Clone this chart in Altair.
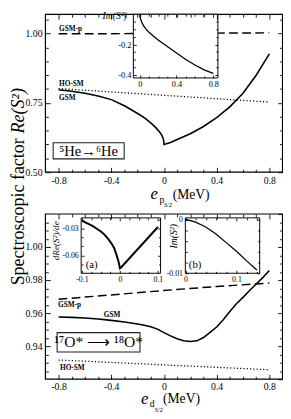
import altair as alt
import pandas as pd

SERIF = "Liberation Serif"
W, H = 283, 411

# ---------------- data ----------------
# Top panel: 5He -> 6He, Re(S^2) vs e_p3/2 (MeV)
top_x = [-0.8, -0.7, -0.6, -0.5, -0.4, -0.3, -0.2, -0.15, -0.1, -0.06, -0.03, -0.015,
         -0.005, -0.001, 0.0, 0.05, 0.1, 0.2, 0.3, 0.4, 0.5, 0.6, 0.7, 0.8]
top_gsm = [0.798, 0.792, 0.785, 0.775, 0.762, 0.740, 0.712, 0.697, 0.678, 0.660, 0.643, 0.632,
           0.620, 0.612, 0.600, 0.607, 0.618, 0.639, 0.665, 0.697, 0.736, 0.785, 0.850, 0.927]
top_x_gsmp = [-0.8, -0.4, 0.0, 0.4, 0.8]
top_gsmp = [1.000, 1.000, 1.001, 1.002, 1.003]
top_x_hosm = [-0.8, 0.8]
top_hosm = [0.802, 0.753]
# Top inset: Im(S^2)
ins1_x = [0.0, 0.003, 0.01, 0.02, 0.04, 0.07, 0.1, 0.15, 0.2, 0.3, 0.4, 0.5, 0.6, 0.7, 0.8]
ins1_im = [0.0, -0.02, -0.035, -0.05, -0.075, -0.10, -0.118, -0.145, -0.17, -0.212, -0.255,
           -0.298, -0.335, -0.367, -0.39]

# Bottom panel: 17O* -> 18O*, Re(S^2) vs e_d3/2 (MeV)
bot_x = [-0.8, -0.7, -0.6, -0.5, -0.4, -0.3, -0.2, -0.15, -0.1, -0.05, 0.0, 0.05, 0.1, 0.15,
         0.2, 0.25, 0.3, 0.35, 0.4, 0.45, 0.5, 0.55, 0.6, 0.65, 0.7, 0.75, 0.8]
bot_gsm = [0.9576, 0.9574, 0.9570, 0.9564, 0.9556, 0.9546, 0.9534, 0.9527, 0.9517, 0.9503,
           0.9482, 0.9462, 0.9445, 0.9432, 0.9428, 0.9432, 0.9452, 0.9483, 0.9516, 0.9560,
           0.9610, 0.9657, 0.9695, 0.9737, 0.9776, 0.9815, 0.9858]
bot_x_gsmp = [-0.8, -0.4, 0.0, 0.4, 0.8]
bot_gsmp = [0.9684, 0.9710, 0.9737, 0.9761, 0.9782]
bot_x_hosm = [-0.8, 0.8]
bot_hosm = [0.9316, 0.9257]
# Inset (a): dRe(S^2)/de
insa_x = [-0.1, -0.09, -0.08, -0.07, -0.06, -0.05, -0.04, -0.03, -0.02, -0.015, -0.01,
          -0.005, -0.002, 0.0, 0.003, 0.1]
insa_y = [-0.0210, -0.0232, -0.0252, -0.0276, -0.0304, -0.0332, -0.0370, -0.0420, -0.0480,
          -0.0520, -0.0580, -0.0650, -0.0700, -0.0745, -0.0735, -0.0282]
# Inset (b): Im(S^2)
insb_x = [0.0, 0.01, 0.02, 0.04, 0.06, 0.08, 0.1, 0.12, 0.14]
insb_y = [0.0, -0.0002, -0.0005, -0.0014, -0.0027, -0.0043, -0.0059, -0.0077, -0.0094]

# tick values
main_x_major = [-0.8, -0.4, 0.0, 0.4, 0.8]
main_x_minor = [-0.7, -0.6, -0.5, -0.3, -0.2, -0.1, 0.1, 0.2, 0.3, 0.5, 0.6, 0.7]
top_y_major = [0.5, 0.75, 1.0]
top_y_minor = [0.55, 0.6, 0.65, 0.7, 0.8, 0.85, 0.9, 0.95, 1.05]
bot_y_major = [0.94, 0.96, 0.98, 1.0]
bot_y_major_all = [0.92, 0.94, 0.96, 0.98, 1.0, 1.02]
bot_y_minor = [0.925, 0.93, 0.935, 0.945, 0.95, 0.955, 0.965, 0.97, 0.975, 0.985, 0.99,
               0.995, 1.005, 1.01, 1.015]
ins1_x_major = [0.0, 0.4, 0.8]
ins1_x_minor = [0.1, 0.2, 0.3, 0.5, 0.6, 0.7]
ins1_y_major = [-0.4, -0.2]
ins1_y_minor = [-0.35, -0.3, -0.25, -0.15, -0.1, -0.05]
insa_x_major = [-0.1, 0.0, 0.1]
insa_x_minor = [-0.075, -0.05, -0.025, 0.025, 0.05, 0.075]
insa_y_major = [-0.06, -0.03]
insa_y_minor = [-0.07, -0.05, -0.04, -0.02]
insb_x_major = [0.0, 0.1]
insb_x_minor = [0.02, 0.04, 0.06, 0.08, 0.12, 0.14]
insb_y_major = [-0.01, 0.0]
insb_y_minor = [-0.008, -0.006, -0.004, -0.002]

E1 = "datum.value == 0 ? '0' : replace(format(datum.value, '.1f'), '\u2212', '-')"
E2 = "replace(format(datum.value, '.2f'), '\u2212', '-')"
E3 = "datum.value == 0 ? '0' : replace(format(datum.value, '.2f'), '\u2212', '-')"


# ---------------- helpers ----------------
def S(domain, rng):
    return alt.Scale(domain=domain, range=rng, nice=False, zero=False)


def line(xs, ys, X, Y, **kw):
    df = pd.DataFrame({"x": xs, "y": ys})
    return alt.Chart(df).mark_line(**kw).encode(
        x=alt.X("x:Q", scale=X, axis=None), y=alt.Y("y:Q", scale=Y, axis=None))


def text(t, x, y, X, Y, **kw):
    df = pd.DataFrame({"x": [x], "y": [y], "t": [t]})
    kw.setdefault("font", SERIF)
    kw.setdefault("color", "black")
    return alt.Chart(df).mark_text(**kw).encode(
        x=alt.X("x:Q", scale=X, axis=None), y=alt.Y("y:Q", scale=Y, axis=None), text="t:N")


def rect(x0, x1, y0, y1, X, Y, **kw):
    df = pd.DataFrame({"x": [x0], "x2": [x1], "y": [y0], "y2": [y1]})
    return alt.Chart(df).mark_rect(**kw).encode(
        x=alt.X("x:Q", scale=X, axis=None), x2="x2:Q",
        y=alt.Y("y:Q", scale=Y, axis=None), y2="y2:Q")


def A(orient, values, offset, tick, labels=False, pad=3, expr=None, size=10):
    kw = dict(orient=orient, values=values, offset=offset, tickSize=tick, tickColor="black",
              tickWidth=0.9, domain=False, grid=False, title=None, labels=labels, zindex=1)
    if labels:
        kw.update(labelPadding=pad, labelFont=SERIF, labelFontSize=size, labelColor="black",
                  labelOverlap=False, labelFlush=False)
        if expr:
            kw["labelExpr"] = expr
    return alt.Axis(**kw)


def axes_layer(X, Y, xv, yv, xaxis, yaxis):
    df = pd.DataFrame({"x": [xv], "y": [yv]})
    return alt.Chart(df).mark_point(opacity=0, size=1).encode(
        x=alt.X("x:Q", scale=X, axis=xaxis), y=alt.Y("y:Q", scale=Y, axis=yaxis))


def frame_axes(X, Y, xv, yv, box, xmaj, xmin, ymaj, ymin, big, small, lab_x, lab_y):
    # box = (left, right, top, bottom) in view pixels
    l, r, t, b = box
    out = [
        axes_layer(X, Y, xv, yv,
                   A("bottom", xmaj, b - big - H, big, *lab_x),
                   A("left", ymaj[0], -(l + big), big, *lab_y)),
        axes_layer(X, Y, xv, yv, A("top", xmaj, -(t + big), big),
                   A("right", ymaj[1], (r - big) - W, big)),
        axes_layer(X, Y, xv, yv, A("bottom", xmin, b - small - H, small),
                   A("left", ymin, -(l + small), small)),
        axes_layer(X, Y, xv, yv, A("top", xmin, -(t + small), small),
                   A("right", ymin, (r - small) - W, small)),
    ]
    return out


# ---------------- scales (view pixel ranges) ----------------
TX = S([-0.9, 0.9], [38.5, 282.5])
TY = S([0.5, 1.07], [163, 0.5])
T1X = S([-0.07, 0.85], [129, 216])
T1Y = S([-0.42, 0.0], [66, 0.5])
BX = S([-0.9, 0.9], [38.5, 282.5])
BY = S([0.92, 1.02], [376, 206])
AX = S([-0.102, 0.107], [75.3, 157])
AY = S([-0.08, -0.018], [267, 210])
BBX = S([0.0, 0.1455], [182.5, 259])
BBY = S([-0.01, 0.0003], [267, 210])

layers = []
# ---- top main panel ----
layers += [
    line(top_x_gsmp, top_gsmp, TX, TY, color="black", strokeWidth=1.5, strokeDash=[9, 4.5]),
    line(top_x_hosm, top_hosm, TX, TY, color="black", strokeWidth=1.3, strokeDash=[1.2, 2.2]),
    line(top_x, top_gsm, TX, TY, color="black", strokeWidth=1.6),
    text("GSM-p", -0.796, 1.016, TX, TY, align="left", baseline="middle", fontSize=7.5, fontWeight="bold"),
    text("HO-SM", -0.796, 0.819, TX, TY, align="left", baseline="middle", fontSize=7.5, fontWeight="bold"),
    text("GSM", -0.796, 0.769, TX, TY, align="left", baseline="middle", fontSize=7.5, fontWeight="bold"),
    rect(-0.841, -0.302, 0.548, 0.606, TX, TY, fill="white", stroke="#222", strokeWidth=1.1),
    text("\u2075He\u2192\u2076He", -0.572, 0.577, TX, TY, align="center", baseline="middle", fontSize=15),
    rect(-0.9, 0.9, 0.5, 1.07, TX, TY, fill="white", fillOpacity=0, stroke="black", strokeWidth=1.2),
    # x title e_{p3/2} (MeV)
    text("e", -0.074, 0.4018, TX, TY, align="center", baseline="alphabetic", fontSize=17, fontStyle="italic"),
    text("p", -0.033, 0.3895, TX, TY, align="left", baseline="alphabetic", fontSize=10),
    text("3/2", -0.0037, 0.3737, TX, TY, align="left", baseline="alphabetic", fontSize=7),
    text("(MeV)", 0.066, 0.405, TX, TY, align="left", baseline="alphabetic", fontSize=14),
    # shared y title
    text("Spectroscopic factor", -1.0619, 0.6228, TX, TY, align="right", baseline="alphabetic", angle=270, fontSize=18.5),
    text("Re(S\u00b2)", -1.0619, 0.640, TX, TY, align="left", baseline="alphabetic", angle=270, fontSize=18.5, fontStyle="italic"),
]
# ---- top inset ----
layers += [
    rect(-0.07, 0.85, -0.42, 0.0, T1X, T1Y, fill="white", stroke="black", strokeWidth=1),
    line(ins1_x, ins1_im, T1X, T1Y, color="black", strokeWidth=1.3),
    text("Im(S\u00b2)", -0.28, 1.063, TX, TY, align="right", baseline="middle", fontSize=10, fontStyle="italic"),
]
# ---- bottom main panel ----
layers += [
    line(bot_x_gsmp, bot_gsmp, BX, BY, color="black", strokeWidth=1.5, strokeDash=[9, 4.5]),
    line(bot_x_hosm, bot_hosm, BX, BY, color="black", strokeWidth=1.3, strokeDash=[1.2, 2.2]),
    line(bot_x, bot_gsm, BX, BY, color="black", strokeWidth=1.6),
    text("GSM-p", -0.804, 0.9647, BX, BY, align="left", baseline="middle", fontSize=7.5, fontWeight="bold"),
    text("GSM", -0.457, 0.9588, BX, BY, align="left", baseline="middle", fontSize=7.5, fontWeight="bold"),
    text("HO-SM", -0.789, 0.9265, BX, BY, align="left", baseline="middle", fontSize=7.5, fontWeight="bold"),
    rect(-0.811, -0.182, 0.9365, 0.9482, BX, BY, fill="white", stroke="#222", strokeWidth=1.1),
    text("\u00b9\u2077O* \u27f6 \u00b9\u2078O*", -0.496, 0.9424, BX, BY, align="center", baseline="middle", fontSize=16),
    rect(-0.9, 0.9, 0.92, 1.02, BX, BY, fill="white", fillOpacity=0, stroke="black", strokeWidth=1.2),
    text("e", -0.1475, 0.905, BX, BY, align="center", baseline="alphabetic", fontSize=17, fontStyle="italic"),
    text("d", -0.107, 0.9029, BX, BY, align="left", baseline="alphabetic", fontSize=10),
    text("3/2", -0.0737, 0.9, BX, BY, align="left", baseline="alphabetic", fontSize=7),
    text("(MeV)", -0.0074, 0.9053, BX, BY, align="left", baseline="alphabetic", fontSize=14),
]
# ---- inset (a) ----
layers += [
    rect(-0.102, 0.107, -0.08, -0.018, AX, AY, fill="white", stroke="black", strokeWidth=1),
    line(insa_x, insa_y, AX, AY, color="black", strokeWidth=2),
    text("(a)", -0.0746, -0.0708, AX, AY, align="center", baseline="middle", fontSize=11),
    text("dRe(S\u00b2)/de", -0.1616, -0.0436, AX, AY, align="center", baseline="alphabetic", angle=270, fontSize=9.5, fontStyle="italic"),
]
# ---- inset (b) ----
layers += [
    rect(0.0, 0.1455, -0.01, 0.0003, BBX, BBY, fill="white", stroke="black", strokeWidth=1),
    line(insb_x, insb_y, BBX, BBY, color="black", strokeWidth=1.3),
    text("(b)", 0.019, -0.0085, BBX, BBY, align="center", baseline="middle", fontSize=11),
    text("Im(S\u00b2)", -0.0162, -0.00313, BBX, BBY, align="center", baseline="alphabetic", angle=270, fontSize=10, fontStyle="italic"),
]

# ---- axes (inward ticks on all four sides) ----
layers += frame_axes(TX, TY, 0.0, 0.75, (38.5, 282.5, 0.5, 163),
                     main_x_major, main_x_minor, (top_y_major, top_y_major), top_y_minor,
                     5, 3, (True, 4, E1, 10), (True, 3.5, E2, 10))
layers += frame_axes(BX, BY, 0.0, 0.96, (38.5, 282.5, 206, 376),
                     main_x_major, main_x_minor, (bot_y_major, bot_y_major_all), bot_y_minor,
                     5, 3, (True, 3, E1, 10), (True, 3.5, E2, 10))
layers += frame_axes(T1X, T1Y, 0.4, -0.2, (129, 216, 0.5, 66),
                     ins1_x_major, ins1_x_minor, (ins1_y_major, ins1_y_major), ins1_y_minor,
                     3, 2, (True, 2, E1, 8.5), (True, 2.5, E1, 8.5))
layers += frame_axes(AX, AY, 0.0, -0.03, (75.3, 157, 210, 267),
                     insa_x_major, insa_x_minor, (insa_y_major, insa_y_major), insa_y_minor,
                     3, 2, (True, 2, E1, 8), (True, 3, E3, 8))
layers += frame_axes(BBX, BBY, 0.05, -0.005, (182.5, 259, 210, 267),
                     insb_x_major, insb_x_minor, (insb_y_major, insb_y_major), insb_y_minor,
                     3, 2, (True, 2, E1, 8), (True, 3, E3, 8))

chart = alt.layer(*layers).resolve_scale(x="independent", y="independent").properties(
    width=W, height=H, autosize=alt.AutoSizeParams(type="none"), padding=0,
    background="white",
).configure_view(strokeWidth=0)

chart.save("out.html", embed_options={"renderer": "svg", "actions": False})
